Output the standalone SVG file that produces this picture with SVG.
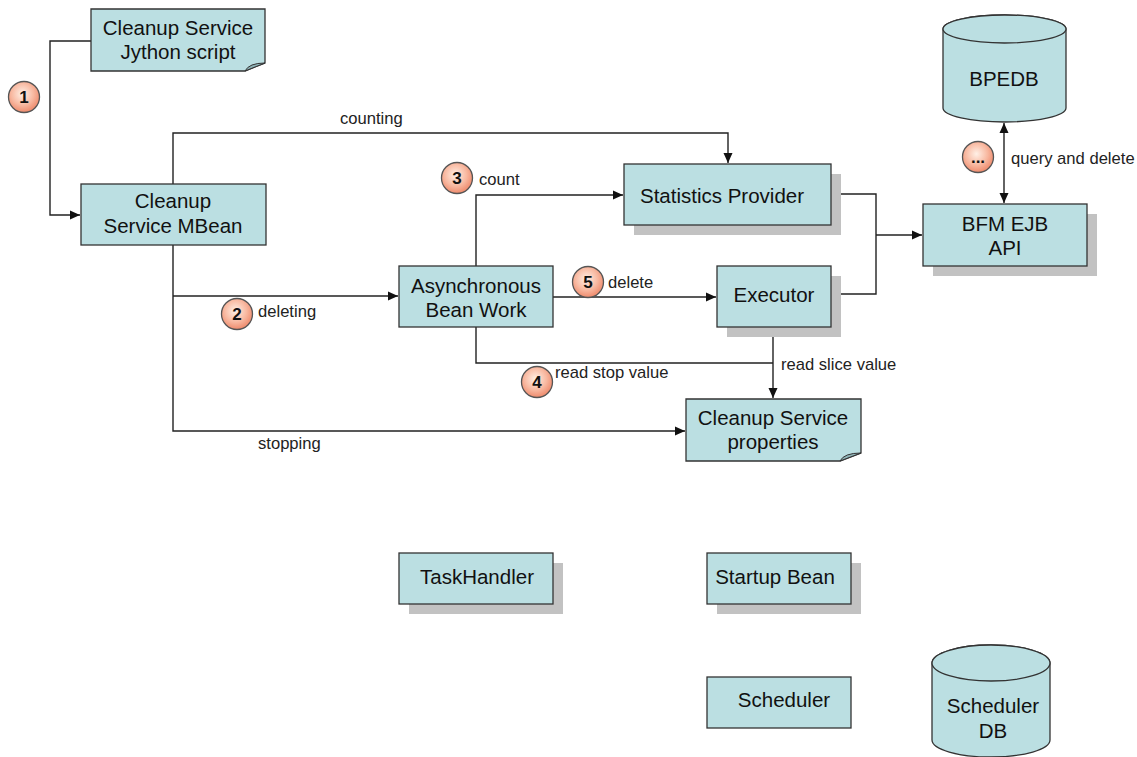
<svg xmlns="http://www.w3.org/2000/svg" width="1137" height="757" viewBox="0 0 1137 757">
<defs>
<style>
.box{fill:#bbdfe2;stroke:#333;stroke-width:1.3}
.shadow{fill:#c2c2c2}
.fold{fill:#8fb3b7;stroke:#333;stroke-width:1}
.t{font-family:"Liberation Sans",Arial,sans-serif;font-size:20.5px;fill:#111;text-anchor:middle}
.lbl{font-family:"Liberation Sans",Arial,sans-serif;font-size:16.6px;fill:#222}
.num{font-family:"Liberation Sans",Arial,sans-serif;font-size:17px;font-weight:bold;fill:#111;text-anchor:middle}
.ln{fill:none;stroke:#222;stroke-width:1.4}
.badge{fill:url(#bg);stroke:#555;stroke-width:1.3}
</style>
<radialGradient id="bg" cx="45%" cy="40%" r="60%">
<stop offset="0" stop-color="#fff0e6"/>
<stop offset="0.6" stop-color="#f8b8a0"/>
<stop offset="1" stop-color="#ee8a6c"/>
</radialGradient>
<marker id="arr" viewBox="0 0 10 10" refX="10" refY="5" markerWidth="10" markerHeight="10" markerUnits="userSpaceOnUse" orient="auto-start-reverse">
<path d="M0,0.5 L10,5 L0,9.5 Z" fill="#111"/>
</marker>
</defs>
<rect width="1137" height="757" fill="#fff"/>

<g id="connectors">
<path class="ln" d="M91,41 H50 V215 H80" marker-end="url(#arr)"/>
<path class="ln" d="M173,184 V133 H728 V163" marker-end="url(#arr)"/>
<path class="ln" d="M173,245 V431 H685" marker-end="url(#arr)"/>
<path class="ln" d="M173,296 H398" marker-end="url(#arr)"/>
<path class="ln" d="M476,266 V195 H623" marker-end="url(#arr)"/>
<path class="ln" d="M553,297 H716" marker-end="url(#arr)"/>
<path class="ln" d="M476,327 V363 H773"/>
<path class="ln" d="M773,327 V398" marker-end="url(#arr)"/>
<path class="ln" d="M831,194 H876 V294 H831"/>
<path class="ln" d="M876,235 H922" marker-end="url(#arr)"/>
<path class="ln" d="M1004,123 V203" marker-start="url(#arr)" marker-end="url(#arr)"/>
</g>

<g id="labels">
<text class="lbl" x="340" y="124">counting</text>
<text class="lbl" x="479" y="185">count</text>
<text class="lbl" x="258" y="317">deleting</text>
<text class="lbl" x="608" y="288">delete</text>
<text class="lbl" x="555" y="378">read stop value</text>
<text class="lbl" x="781" y="370">read slice value</text>
<text class="lbl" x="258" y="449">stopping</text>
<text class="lbl" x="1011" y="164">query and delete</text>
</g>

<g id="badges">
<circle class="badge" cx="24" cy="97" r="15.5"/><text class="num" x="24" y="103">1</text>
<circle class="badge" cx="237" cy="314" r="15.5"/><text class="num" x="237" y="320">2</text>
<circle class="badge" cx="457" cy="178" r="15.5"/><text class="num" x="457" y="184">3</text>
<circle class="badge" cx="537" cy="382" r="15.5"/><text class="num" x="537" y="388">4</text>
<circle class="badge" cx="588" cy="282" r="15.5"/><text class="num" x="588" y="288">5</text>
<circle class="badge" cx="978" cy="157" r="15.5"/><text class="num" x="978" y="163">...</text>
</g>

<g id="jython">
<path class="box" d="M91,9 H265 V63 L245,71 H91 Z"/>
<path class="fold" d="M245,71 Q249,63 265,63 Z"/>
<text class="t" x="178" y="35">Cleanup Service</text>
<text class="t" x="178" y="59">Jython script</text>
</g>

<g id="mbean">
<rect class="box" x="81" y="184" width="185" height="61"/>
<text class="t" x="173" y="208">Cleanup</text>
<text class="t" x="173" y="233">Service MBean</text>
</g>

<g id="statistics">
<rect class="shadow" x="634" y="174" width="207" height="61"/>
<rect class="box" x="624" y="164" width="207" height="61"/>
<text class="t" x="722" y="203">Statistics Provider</text>
</g>

<g id="async">
<rect class="box" x="399" y="266" width="154" height="61"/>
<text class="t" x="476" y="293">Asynchronous</text>
<text class="t" x="476" y="317">Bean Work</text>
</g>

<g id="executor">
<rect class="shadow" x="727" y="276" width="114" height="61"/>
<rect class="box" x="717" y="266" width="114" height="61"/>
<text class="t" x="774" y="302">Executor</text>
</g>

<g id="properties">
<path class="box" d="M686,399 H861 V453 L840,461 H686 Z"/>
<path class="fold" d="M840,461 Q844,453 861,453 Z"/>
<text class="t" x="773" y="425">Cleanup Service</text>
<text class="t" x="773" y="449">properties</text>
</g>

<g id="bfm">
<rect class="shadow" x="933" y="214" width="164" height="62"/>
<rect class="box" x="923" y="204" width="164" height="62"/>
<text class="t" x="1005" y="231">BFM EJB</text>
<text class="t" x="1005" y="255">API</text>
</g>

<g id="bpedb">
<path class="box" d="M943,29 V108 A61.5,14 0 0 0 1066,108 V29 A61.5,14 0 0 0 943,29 Z"/>
<ellipse class="box" cx="1004.5" cy="29" rx="61.5" ry="14"/>
<text class="t" x="1004" y="86">BPEDB</text>
</g>

<g id="taskhandler">
<rect class="shadow" x="409" y="563" width="154" height="51"/>
<rect class="box" x="399" y="553" width="154" height="51"/>
<text class="t" x="477" y="584">TaskHandler</text>
</g>

<g id="startup">
<rect class="shadow" x="717" y="563" width="144" height="51"/>
<rect class="box" x="707" y="553" width="144" height="51"/>
<text class="t" x="775" y="584">Startup Bean</text>
</g>

<g id="scheduler">
<rect class="box" x="707" y="677" width="144" height="51"/>
<text class="t" x="784" y="707">Scheduler</text>
</g>

<g id="schedulerdb">
<path class="box" d="M932,663 V740 A59,17 0 0 0 1050,740 V663 A59,18 0 0 0 932,663 Z"/>
<ellipse class="box" cx="991" cy="663" rx="59" ry="18"/>
<text class="t" x="993" y="713">Scheduler</text>
<text class="t" x="993" y="738">DB</text>
</g>
</svg>
